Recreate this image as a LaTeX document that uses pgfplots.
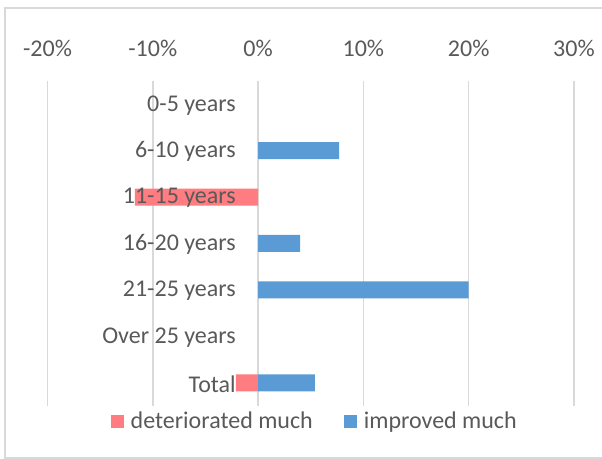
\documentclass[border=0pt]{standalone}
\usepackage{pgfplots}
\pgfplotsset{compat=1.18}
\usepackage{fontspec}
\setmainfont{Carlito}
\definecolor{txt}{HTML}{595959}
\definecolor{grd}{HTML}{D9D9D9}
\definecolor{redb}{HTML}{FF7C80}
\definecolor{blueb}{HTML}{5B9BD5}
\begin{document}
\begin{tikzpicture}
\useasboundingbox (0,0) rectangle (301pt,229.5pt);
\draw[grd, line width=0.8pt] (310pt,225.5pt) -- (2.5pt,225.5pt) -- (2.5pt,0.5pt) -- (310pt,0.5pt);
\begin{axis}[
  at={(23.75pt,26.5pt)}, anchor=south west,
  scale only axis, width=263.25pt, height=162.5pt,
  xmin=-20, xmax=30, ymin=0.5, ymax=7.5, y dir=reverse,
  xbar, bar width=8.5pt, bar shift=0pt,
  axis line style={draw=none},
  major tick length=0pt,
  xmajorgrids, grid style={grd, line width=0.8pt},
  xtick={-20,-10,0,10,20,30},
  xticklabels={-20\%,-10\%,0\%,10\%,20\%,30\%},
  xticklabel pos=upper,
  xticklabel style={yshift=8.5pt},
  ytick={1,...,7},
  yticklabels={},
  tick label style={font=\fontsize{12}{14}\selectfont, text=txt},
  legend style={at={(0.5,0)}, anchor=center, yshift=-8pt, xshift=2.5pt, draw=none, fill=none,
    legend columns=2, font=\fontsize{12}{14}\selectfont, text=txt,
    /tikz/every even column/.append style={column sep=13.5pt}},
  legend cell align=left,
  legend image code/.code={\draw[#1,draw=none] (0pt,-3.25pt) rectangle (6.5pt,3.25pt); \path (0pt,0pt) -- (8pt,0pt);},
]
\addplot[fill=redb, draw=none] coordinates {(-11.7,3) (-2.1,7)};
\addlegendentry{deteriorated much}
\addplot[fill=blueb, draw=none] coordinates {(7.7,2) (4.0,4) (20,5) (5.4,7)};
\addlegendentry{improved much}
\begin{scope}[every node/.style={anchor=east, inner sep=0pt, xshift=-11pt, yshift=-0.5pt, text=txt, font=\fontsize{12}{14}\selectfont}]
\node at (axis cs:0,1) {0-5 years};
\node at (axis cs:0,2) {6-10 years};
\node at (axis cs:0,3) {11-15 years};
\node at (axis cs:0,4) {16-20 years};
\node at (axis cs:0,5) {21-25 years};
\node at (axis cs:0,6) {Over 25 years};
\node at (axis cs:0,7) {Total};
\end{scope}
\end{axis}
\end{tikzpicture}
\end{document}
